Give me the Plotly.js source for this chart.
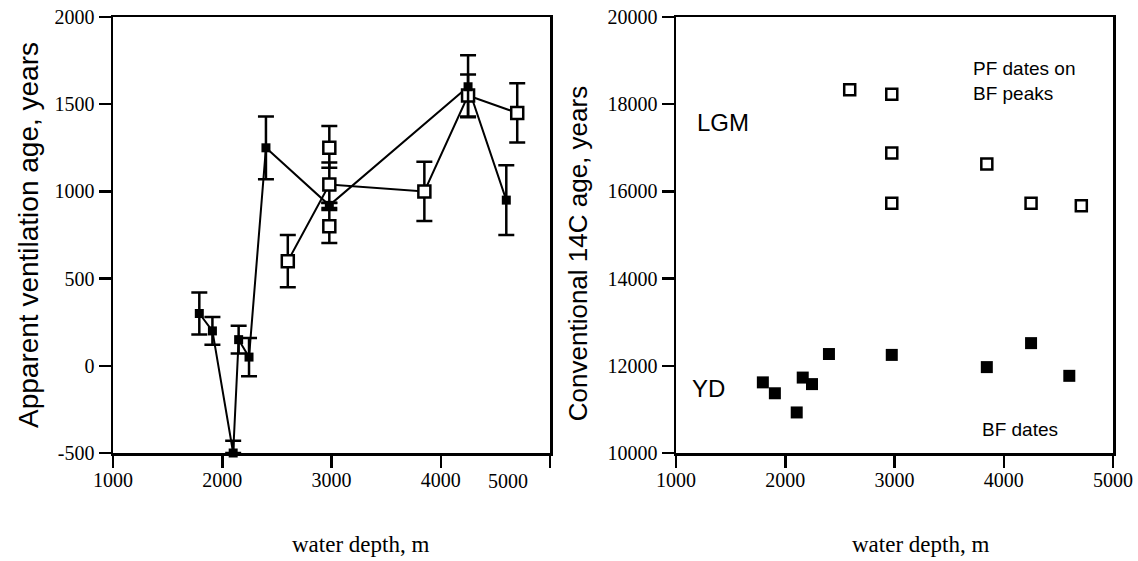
<!DOCTYPE html>
<html>
<head>
<meta charset="utf-8">
<script src="https://cdn.plot.ly/plotly-3.0.1.min.js"></script>
<style>html,body{margin:0;padding:0;background:#fff;}#chart{width:1138px;height:561px;}</style>
</head>
<body>
<div id="chart"></div>
<script>
// ---- Left panel: apparent ventilation age ----
const leftFilledDepth    = [1790, 1910, 2100, 2150, 2245, 2400, 2980, 4250, 4600];
const leftFilledAge      = [300, 200, -500, 150, 50, 1250, 920, 1600, 950];
const leftFilledErrPlus  = [120, 80, 70, 80, 110, 180, 15, 180, 200];
const leftFilledErrMinus = [120, 80, 0, 80, 110, 180, 15, 170, 200];

const leftOpenDepth    = [2600, 2980, 2980, 2980, 3850, 4250, 4700];
const leftOpenAge      = [600, 1250, 1040, 800, 1000, 1550, 1450];
const leftOpenErrPlus  = [150, 125, 125, 93, 170, 120, 170];
const leftOpenErrMinus = [150, 115, 107, 96, 170, 125, 170];
const leftOpenLinked   = [true, false, true, false, true, true, true];

const leftXTickVals = [1000, 2000, 3000, 4000, 5000];
const leftXTickText = ['1000', '2000', '3000', '4000', ''];
const leftOddLabelValue = 4620;   // the "5000" label as printed in the source
const leftOddLabelText = '5000';
const leftYTickVals = [-500, 0, 500, 1000, 1500, 2000];
const leftYTickText = ['-500', '0', '500', '1000', '1500', '2000'];

// ---- Right panel: conventional 14C age ----
const pfDepth = [2590, 2975, 2975, 2975, 3845, 4250, 4710];
const pfAge   = [18330, 18230, 16880, 15730, 16630, 15730, 15670];
const bfDepth = [1795, 1905, 2105, 2160, 2245, 2400, 2975, 3845, 4250, 4600];
const bfAge   = [11620, 11370, 10930, 11730, 11580, 12270, 12250, 11970, 12520, 11770];

const rightXTickVals = [1000, 2000, 3000, 4000, 5000];
const rightYTickVals = [10000, 12000, 14000, 16000, 18000, 20000];
const rightYTickText = ['10000', '12000', '14000', '16000', '18000', '20000'];

const linkedX = leftOpenDepth.filter((d, i) => leftOpenLinked[i]);
const linkedY = leftOpenAge.filter((d, i) => leftOpenLinked[i]);

const serif = 'Liberation Serif, Times New Roman, serif';
const sans = 'Liberation Sans, Arial, sans-serif';

const traces = [
  { x: leftFilledDepth, y: leftFilledAge, xaxis: 'x', yaxis: 'y', mode: 'lines',
    line: { color: '#000', width: 2 }, hoverinfo: 'skip', cliponaxis: false },
  { x: linkedX, y: linkedY, xaxis: 'x', yaxis: 'y', mode: 'lines',
    line: { color: '#000', width: 2 }, hoverinfo: 'skip', cliponaxis: false },
  { x: leftOpenDepth, y: leftOpenAge, xaxis: 'x', yaxis: 'y', mode: 'markers', cliponaxis: false,
    marker: { symbol: 'square', size: 12, color: '#fff', line: { color: '#000', width: 2.5 } },
    error_y: { type: 'data', symmetric: false, array: leftOpenErrPlus, arrayminus: leftOpenErrMinus,
               color: '#000', thickness: 2.5, width: 8 } },
  { x: leftFilledDepth, y: leftFilledAge, xaxis: 'x', yaxis: 'y', mode: 'markers', cliponaxis: false,
    marker: { symbol: 'square', size: 9, color: '#000' },
    error_y: { type: 'data', symmetric: false, array: leftFilledErrPlus, arrayminus: leftFilledErrMinus,
               color: '#000', thickness: 2.5, width: 8 } },
  { x: pfDepth, y: pfAge, xaxis: 'x2', yaxis: 'y2', mode: 'markers', cliponaxis: false,
    marker: { symbol: 'square', size: 11, color: '#fff', line: { color: '#000', width: 2.5 } } },
  { x: bfDepth, y: bfAge, xaxis: 'x2', yaxis: 'y2', mode: 'markers', cliponaxis: false,
    marker: { symbol: 'square', size: 12, color: '#000' } }
];

const axisStyle = {
  showline: true, linecolor: '#000', linewidth: 2.5, mirror: true,
  ticks: 'outside', ticklen: 12, tickwidth: 2.5, tickcolor: '#000',
  showgrid: false, zeroline: false,
  tickfont: { family: serif, size: 20, color: '#000' }
};

const layout = {
  width: 1138, height: 561,
  margin: { l: 113, r: 25, t: 17, b: 108 },
  paper_bgcolor: '#fff', plot_bgcolor: '#fff',
  showlegend: false,
  xaxis: Object.assign({}, axisStyle, { domain: [0, 0.437], range: [1000, 5000],
    tickmode: 'array', tickvals: leftXTickVals, ticktext: leftXTickText, ticklabelstandoff: -5 }),
  yaxis: Object.assign({}, axisStyle, { domain: [0, 1], range: [-500, 2000],
    tickmode: 'array', tickvals: leftYTickVals, ticktext: leftYTickText,
    title: { text: 'Apparent ventilation age, years', font: { family: sans, size: 28, color: '#000' }, standoff: 8 } }),
  xaxis2: Object.assign({}, axisStyle, { domain: [0.563, 1], anchor: 'y2', range: [1000, 5000],
    tickmode: 'array', tickvals: rightXTickVals, ticklabelstandoff: -5 }),
  yaxis2: Object.assign({}, axisStyle, { domain: [0, 1], anchor: 'x2', range: [10000, 20000],
    tickmode: 'array', tickvals: rightYTickVals, ticktext: rightYTickText }),
  annotations: [
    { xref: 'x', yref: 'paper', x: leftOddLabelValue, y: -0.064, yanchor: 'middle', xanchor: 'center',
      text: leftOddLabelText, showarrow: false, font: { family: serif, size: 20, color: '#000' } },
    { xref: 'paper', yref: 'paper', x: 0.465, y: 0.456, xanchor: 'center', yanchor: 'middle', textangle: -90,
      text: 'Conventional 14C age, years', showarrow: false, font: { family: sans, size: 26, color: '#000' } },
    { xref: 'paper', yref: 'paper', x: 0.247, y: -0.211, xanchor: 'center', yanchor: 'middle',
      text: 'water depth, m', showarrow: false, font: { family: serif, size: 23, color: '#000' } },
    { xref: 'paper', yref: 'paper', x: 0.807, y: -0.211, xanchor: 'center', yanchor: 'middle',
      text: 'water depth, m', showarrow: false, font: { family: serif, size: 23, color: '#000' } },
    { xref: 'x2', yref: 'y2', x: 1174, y: 17570, xanchor: 'left', yanchor: 'middle',
      text: 'LGM', showarrow: false, font: { family: sans, size: 24, color: '#000' } },
    { xref: 'x2', yref: 'y2', x: 3700, y: 18530, xanchor: 'left', yanchor: 'middle', align: 'left',
      text: 'PF dates on<br>BF peaks', showarrow: false, font: { family: sans, size: 19, color: '#000' } },
    { xref: 'x2', yref: 'y2', x: 1128, y: 11490, xanchor: 'left', yanchor: 'middle',
      text: 'YD', showarrow: false, font: { family: sans, size: 24, color: '#000' } },
    { xref: 'x2', yref: 'y2', x: 3783, y: 10550, xanchor: 'left', yanchor: 'middle',
      text: 'BF dates', showarrow: false, font: { family: sans, size: 19, color: '#000' } }
  ]
};

Plotly.newPlot('chart', traces, layout, { displayModeBar: false, staticPlot: true });
</script>
</body>
</html>
